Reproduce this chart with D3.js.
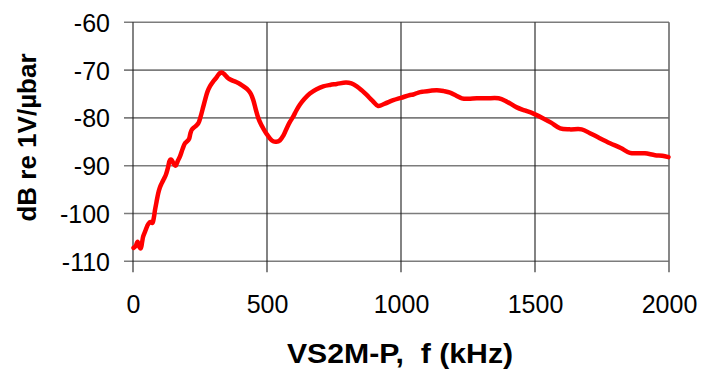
<!DOCTYPE html>
<html>
<head>
<meta charset="utf-8">
<script src="https://cdn.jsdelivr.net/npm/d3@7"></script>
<style>
  html, body { margin: 0; padding: 0; background: #fff; }
  svg { display: block; }
</style>
</head>
<body>
<svg id="chart" width="719" height="376"></svg>
<script>
// Frequency response of the VS2M-P sensor
const freqKHz = [2, 10, 17, 24, 29, 34, 38, 47, 57, 65, 72, 78, 82, 88, 94, 100, 107, 115, 122, 130,
  138, 143, 148, 154, 159, 167, 175, 185, 194, 200, 209, 214, 219, 228, 236, 244, 252, 262, 270, 278,
  288, 299, 308, 318, 325, 331, 338, 343, 355, 368, 385, 399, 415, 430, 440, 449, 458, 468, 478, 486,
  498, 511, 523, 535, 548, 562, 575, 586, 597, 610, 623, 640, 660, 685, 710, 735, 760, 795, 815, 835,
  855, 872, 893, 915, 940, 971, 1000, 1034, 1046, 1065, 1084, 1110, 1134, 1160, 1183, 1205, 1227, 1250,
  1283, 1320, 1364, 1395, 1432, 1465, 1494, 1531, 1560, 1594, 1630, 1674, 1705, 1740, 1780, 1820, 1854,
  1880, 1910, 1948, 1975, 1998];
const levelDb = [-107.2, -106.8, -105.9, -107.0, -107.3, -106.0, -104.8, -103.5, -102.2, -101.8, -102.0,
  -100.8, -99.3, -97.5, -95.8, -94.6, -93.7, -92.8, -92.0, -90.5,
  -88.8, -88.7, -89.2, -89.8, -90.0, -89.0, -88.1, -86.5, -85.3, -85.0, -84.4, -83.3, -82.5, -82.0,
  -81.6, -81.1, -79.8, -77.7, -76.0, -74.5,
  -73.3, -72.4, -71.8, -71.0, -70.6, -70.5, -70.7, -71.0, -71.7, -72.1, -72.5, -72.9, -73.5, -74.2,
  -75.0, -76.3, -78.2, -80.1, -81.4, -82.2,
  -83.3, -84.3, -84.9, -85.0, -84.7, -83.6, -82.0, -80.8, -79.8, -78.4, -77.2, -76.0, -74.9, -74.0,
  -73.4, -73.1, -72.9, -72.6, -72.8, -73.4,
  -74.3, -75.2, -76.4, -77.5, -77.0, -76.3, -75.8, -75.2, -75.1, -74.7, -74.5, -74.3, -74.2, -74.4,
  -74.7, -75.3, -75.9, -76.0,
  -75.9, -75.9, -75.9, -76.6, -77.8, -78.5, -79.1, -80.1, -81.0, -82.2, -82.4, -82.4, -83.2, -84.2,
  -85.3, -86.3, -87.3,
  -87.4, -87.4, -87.8, -87.9, -88.2];

const xTicks = [0, 500, 1000, 1500, 2000];
const yTicks = [-60, -70, -80, -90, -100, -110];
const xTitle = "VS2M-P,  f (kHz)";
const yTitle = "dB re 1V/\u00B5bar";

const svg = d3.select("#chart");
const plotLeft = 133, plotRight = 669, plotTop = 22.3, plotBottom = 261.3;
const font = "Liberation Sans, Arial, sans-serif";

const x = d3.scaleLinear().domain([0, 2000]).range([plotLeft, plotRight]);
const y = d3.scaleLinear().domain([-110, -60]).range([plotBottom, plotTop]);

// Horizontal grid lines, extended left as tick marks
svg.append("g")
  .selectAll("line")
  .data(yTicks)
  .join("line")
  .attr("x1", plotLeft - 9).attr("x2", plotRight)
  .attr("y1", d => y(d)).attr("y2", d => y(d))
  .attr("stroke", "#7c7c7c")
  .attr("stroke-width", 1.6);

// Vertical grid lines, extended below as tick marks
svg.append("g")
  .selectAll("line")
  .data(xTicks)
  .join("line")
  .attr("x1", d => x(d)).attr("x2", d => x(d))
  .attr("y1", plotTop).attr("y2", plotBottom + 11)
  .attr("stroke", d => d === 2000 ? "#6a6a6a" : "#1e1e1e")
  .attr("stroke-width", d => d === 2000 ? 1.6 : 1.1);

// Axis labels (plain hyphen for negatives)
const plain = d => String(d);
const yAxis = d3.axisLeft(y).tickValues(yTicks).tickSize(0).tickPadding(0).tickFormat(plain);
const gy = svg.append("g").attr("transform", "translate(110,0)").call(yAxis);
gy.select(".domain").remove();
gy.selectAll("text")
  .attr("font-family", font)
  .attr("font-size", 25)
  .attr("fill", "#000")
  .attr("dy", "0.36em");

const xAxis = d3.axisBottom(x).tickValues(xTicks).tickSize(0).tickPadding(0).tickFormat(plain);
const gx = svg.append("g").attr("transform", "translate(0,313)").call(xAxis);
gx.select(".domain").remove();
gx.selectAll("text")
  .attr("font-family", font)
  .attr("font-size", 25)
  .attr("fill", "#000")
  .attr("dy", 0);

// Response curve
const pts = freqKHz.map((f, i) => [f, levelDb[i]]);
const line = d3.line()
  .x(d => x(d[0]))
  .y(d => y(d[1]))
  .curve(d3.curveCatmullRom.alpha(0.5));

svg.append("path")
  .datum(pts)
  .attr("d", line)
  .attr("fill", "none")
  .attr("stroke", "#ff0000")
  .attr("stroke-width", 4.5)
  .attr("stroke-linejoin", "round")
  .attr("stroke-linecap", "round");

// Axis titles
svg.append("text")
  .attr("transform", "translate(400,363) scale(1.12,1)")
  .attr("text-anchor", "middle")
  .attr("font-family", font)
  .attr("font-weight", "bold")
  .attr("font-size", 27)
  .style("white-space", "pre")
  .text(xTitle);

svg.append("text")
  .attr("transform", "translate(36,137.5) rotate(-90)")
  .attr("text-anchor", "middle")
  .attr("font-family", font)
  .attr("font-weight", "bold")
  .attr("font-size", 26)
  .text(yTitle);
</script>
</body>
</html>
